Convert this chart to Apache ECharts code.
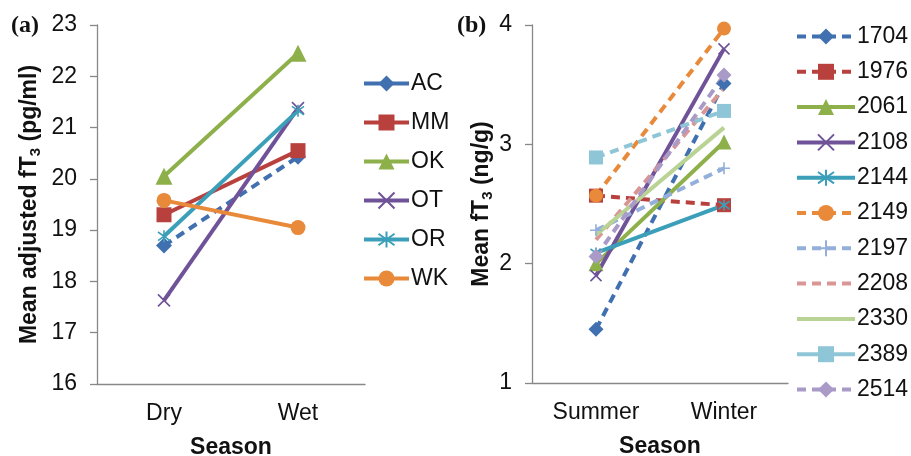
<!DOCTYPE html>
<html><head><meta charset="utf-8">
<script src="https://cdn.jsdelivr.net/npm/echarts@6/dist/echarts.min.js"></script>
<style>html,body{margin:0;padding:0;background:#fff}#c{width:911px;height:456px}</style>
</head><body><div id="c"></div>
<script>
// ---- Data ----
const catsA = ['Dry', 'Wet'];
const namesA = ['AC', 'MM', 'OK', 'OT', 'OR', 'WK'];
const AC = [18.70, 20.43];
const MM = [19.30, 20.55];
const OK = [20.05, 22.45];
const OT = [17.63, 21.38];
const OR = [18.88, 21.33];
const WK = [19.58, 19.05];

const catsB = ['Summer', 'Winter'];
const namesB = ['1704', '1976', '2061', '2108', '2144', '2149', '2197', '2208', '2330', '2389', '2514'];
const s1704 = [1.45, 3.51];
const s1976 = [2.57, 2.49];
const s2061 = [2.00, 3.02];
const s2108 = [1.90, 3.80];
const s2144 = [2.09, 2.49];
const s2149 = [2.57, 3.97];
const s2197 = [2.28, 2.80];
const s2208 = [2.20, 3.47];
const s2330 = [2.24, 3.14];
const s2389 = [2.89, 3.28];
const s2514 = [2.06, 3.58];

const ticksA = [16, 17, 18, 19, 20, 21, 22, 23];
const ticksB = [1, 2, 3, 4];

// ---- Styles ----
const C = {blue:'#4170B0', red:'#B8413E', green:'#8DB04B', purple:'#6F5298', aqua:'#3C9FBA', orange:'#E88A3A',
  lblue:'#94AFD9', lred:'#D99694', lgreen:'#B9D395', laqua:'#8EC6D8', lpurple:'#A99AC8'};
const XPATH = 'path://M0,0L10,10M10,0L0,10';
const ASTPATH = 'path://M0,0L10,10M10,0L0,10M5,-2L5,12';
const PLUSPATH = 'path://M5,0L5,10M0,5L10,5';

function mk(name, data, color, symbol, size, dashed, xi, width, stroke) {
  return {
    name: name, type: 'line', data: data, xAxisIndex: xi, yAxisIndex: xi,
    symbol: symbol, symbolSize: size, showSymbol: symbol !== 'none',
    lineStyle: {color: color, width: width, type: dashed ? [9, 6] : 'solid'},
    itemStyle: stroke ? {color: 'rgba(0,0,0,0)', borderColor: color, borderWidth: 1.6} : {color: color},
    emphasis: {disabled: true}, animation: false, z: 3
  };
}

const series = [
  mk('AC', AC, C.blue, 'diamond', 16, true, 0, 4),
  mk('MM', MM, C.red, 'rect', 15, false, 0, 4),
  mk('OK', OK, C.green, 'triangle', 17, false, 0, 4),
  mk('OT', OT, C.purple, XPATH, 12, false, 0, 4, true),
  mk('OR', OR, C.aqua, ASTPATH, 12, false, 0, 4, true),
  mk('WK', WK, C.orange, 'circle', 15, false, 0, 4),
  mk('1704', s1704, C.blue, 'diamond', 15, true, 1, 4),
  mk('1976', s1976, C.red, 'rect', 14, true, 1, 4),
  mk('2061', s2061, C.green, 'triangle', 15, false, 1, 4),
  mk('2108', s2108, C.purple, XPATH, 11, false, 1, 4, true),
  mk('2144', s2144, C.aqua, ASTPATH, 11, false, 1, 4, true),
  mk('2149', s2149, C.orange, 'circle', 14, true, 1, 4),
  mk('2197', s2197, C.lblue, PLUSPATH, 12, true, 1, 4, true),
  mk('2208', s2208, C.lred, 'none', 0, true, 1, 4),
  mk('2330', s2330, C.lgreen, 'none', 0, false, 1, 4),
  mk('2389', s2389, C.laqua, 'rect', 14, true, 1, 4),
  mk('2514', s2514, C.lpurple, 'diamond', 15, true, 1, 4)
];

function legendItems(names) {
  return names.map(function (n) {
    const it = {name: n};
    if (n === 'AC' || n === '2389') it.lineStyle = {type: 'solid'};
    if (n === '2208' || n === '2330') it.itemStyle = {opacity: 0};
    return it;
  });
}

const axisLine = {lineStyle: {color: '#888888', width: 1.3}};
const axisTick = {lineStyle: {color: '#888888', width: 1.3}, length: 7};
const lblFont = {fontFamily: 'Liberation Sans, Arial', fontSize: 23, color: '#111'};
const nameFont = {fontFamily: 'Liberation Sans, Arial', fontSize: 23, fontWeight: 'bold', color: '#111'};
const subFont = Object.assign({}, nameFont, {fontSize: 15, padding: [11, 0, 0, 0]});

const option = {
  backgroundColor: '#fff',
  animation: false,
  grid: [
    {left: 97, right: 546, top: 25, bottom: 72, containLabel: false, outerBoundsMode: 'none'},
    {left: 532, right: 123, top: 25, bottom: 73, containLabel: false, outerBoundsMode: 'none'}
  ],
  xAxis: [
    {type: 'category', gridIndex: 0, data: catsA, boundaryGap: true, axisLine: axisLine, axisTick: axisTick,
     axisLabel: Object.assign({margin: 18}, lblFont), name: 'Season', nameLocation: 'middle', nameGap: 52, nameTextStyle: nameFont},
    {type: 'category', gridIndex: 1, data: catsB, boundaryGap: true, axisLine: axisLine, axisTick: axisTick,
     axisLabel: Object.assign({margin: 18}, lblFont), name: 'Season', nameLocation: 'middle', nameGap: 52, nameTextStyle: nameFont}
  ],
  yAxis: [
    {type: 'value', gridIndex: 0, min: ticksA[0], max: ticksA[ticksA.length - 1], interval: 1,
     axisLine: Object.assign({show: true}, axisLine), axisTick: Object.assign({show: true}, axisTick), splitLine: {show: false},
     axisLabel: Object.assign({margin: 20}, lblFont),
     name: '{a|Mean adjusted fT}{s|3}{a| (pg/ml)}', nameLocation: 'middle', nameGap: 54, nameRotate: 90,
     nameTextStyle: {rich: {a: nameFont, s: subFont}}},
    {type: 'value', gridIndex: 1, min: ticksB[0], max: ticksB[ticksB.length - 1], interval: 1,
     axisLine: Object.assign({show: true}, axisLine), axisTick: Object.assign({show: true}, axisTick), splitLine: {show: false},
     axisLabel: Object.assign({margin: 20}, lblFont),
     name: '{a|Mean fT}{s|3}{a| (ng/g)}', nameLocation: 'middle', nameGap: 37, nameRotate: 90,
     nameTextStyle: {rich: {a: nameFont, s: subFont}}}
  ],
  legend: [
    {data: legendItems(namesA), orient: 'vertical', left: 357, top: 67, itemWidth: 45, itemHeight: 20, itemGap: 16,
     lineStyle: {width: 4}, textStyle: Object.assign({}, lblFont, {padding: [0, 0, 0, -3]}), selectedMode: false},
    {data: legendItems(namesB), orient: 'vertical', left: 790, top: 20, itemWidth: 58, itemHeight: 20, itemGap: 12.3,
     lineStyle: {width: 4}, textStyle: Object.assign({}, lblFont, {padding: [0, 0, 0, -3]}), selectedMode: false}
  ],
  graphic: [
    {type: 'text', left: 11, top: 14, style: {text: '(a)', font: 'bold 24px "Liberation Serif", "Times New Roman", serif', fill: '#111'}},
    {type: 'text', left: 457, top: 14, style: {text: '(b)', font: 'bold 24px "Liberation Serif", "Times New Roman", serif', fill: '#111'}}
  ],
  series: series
};

const chart = echarts.init(document.getElementById('c'), null, {renderer: 'canvas'});
chart.setOption(option);
</script>
</body></html>
